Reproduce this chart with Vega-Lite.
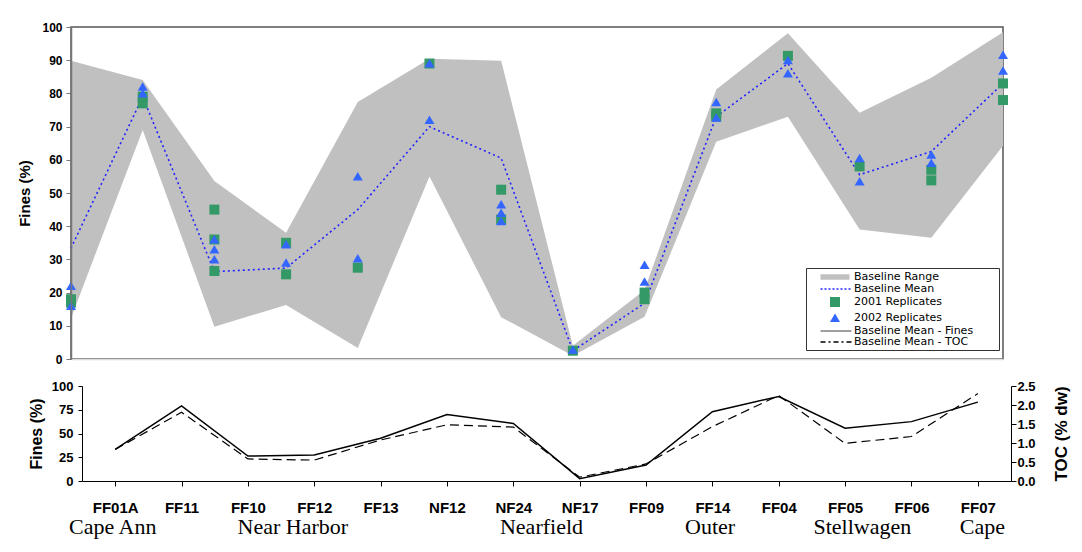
{
  "$schema": "https://vega.github.io/schema/vega-lite/v6.json",
  "background": "white",
  "padding": {"left": 17, "top": 20, "right": 5, "bottom": 5},
  "bounds": "flush",
  "spacing": 27,
  "config": {
    "font": "Liberation Sans",
    "view": {"stroke": null},
    "axis": {
      "grid": false,
      "labelOverlap": false,
      "labelFont": "Liberation Sans",
      "titleFont": "Liberation Sans",
      "labelColor": "#000",
      "titleColor": "#000",
      "labelFontWeight": "bold",
      "titleFontWeight": "bold"
    },
    "legend": {
      "orient": "none",
      "legendX": 735,
      "legendY": 241,
      "title": null,
      "direction": "vertical",
      "symbolSize": 100,
      "symbolOffset": 20,
      "symbolStrokeWidth": 1.3,
      "symbolOpacity": 1,
      "labelFont": "DejaVu Sans",
      "labelFontSize": 11,
      "labelFontWeight": "normal",
      "labelColor": "#000",
      "labelOffset": 13,
      "rowPadding": 0,
      "padding": 3,
      "strokeColor": "#333333",
      "fillColor": "#ffffff"
    }
  },
  "datasets": {
    "stations": [
      {"station": "FF01A", "fines_lo": 12.3, "fines_hi": 89.8, "fines_mean": 33.4, "toc_mean": 0.83},
      {"station": "FF11", "fines_lo": 69.0, "fines_hi": 84.0, "fines_mean": 79.0, "toc_mean": 1.81},
      {"station": "FF10", "fines_lo": 9.7, "fines_hi": 53.6, "fines_mean": 26.3, "toc_mean": 0.58},
      {"station": "FF12", "fines_lo": 16.3, "fines_hi": 38.0, "fines_mean": 27.4, "toc_mean": 0.55},
      {"station": "FF13", "fines_lo": 3.3, "fines_hi": 77.4, "fines_mean": 45.0, "toc_mean": 1.08},
      {"station": "NF12", "fines_lo": 55.0, "fines_hi": 90.4, "fines_mean": 70.0, "toc_mean": 1.48},
      {"station": "NF24", "fines_lo": 12.6, "fines_hi": 89.8, "fines_mean": 60.5, "toc_mean": 1.42},
      {"station": "NF17", "fines_lo": 1.0, "fines_hi": 4.0, "fines_mean": 2.5, "toc_mean": 0.1},
      {"station": "FF09", "fines_lo": 12.7, "fines_hi": 20.8, "fines_mean": 16.8, "toc_mean": 0.45},
      {"station": "FF14", "fines_lo": 65.4, "fines_hi": 81.2, "fines_mean": 73.0, "toc_mean": 1.43},
      {"station": "FF04", "fines_lo": 73.0, "fines_hi": 98.1, "fines_mean": 89.0, "toc_mean": 2.25},
      {"station": "FF05", "fines_lo": 39.0, "fines_hi": 74.2, "fines_mean": 55.5, "toc_mean": 0.99},
      {"station": "FF06", "fines_lo": 36.5, "fines_hi": 84.7, "fines_mean": 62.5, "toc_mean": 1.17},
      {"station": "FF07", "fines_lo": 64.2, "fines_hi": 98.4, "fines_mean": 83.0, "toc_mean": 2.3}
    ],
    "replicates": [
      {"station": "FF01A", "series": "2001 Replicates", "fines": 18.0},
      {"station": "FF01A", "series": "2001 Replicates", "fines": 17.0},
      {"station": "FF01A", "series": "2002 Replicates", "fines": 22.0},
      {"station": "FF01A", "series": "2002 Replicates", "fines": 16.0},
      {"station": "FF11", "series": "2001 Replicates", "fines": 77.0},
      {"station": "FF11", "series": "2001 Replicates", "fines": 79.0},
      {"station": "FF11", "series": "2002 Replicates", "fines": 82.0},
      {"station": "FF11", "series": "2002 Replicates", "fines": 80.0},
      {"station": "FF10", "series": "2001 Replicates", "fines": 45.0},
      {"station": "FF10", "series": "2001 Replicates", "fines": 36.0},
      {"station": "FF10", "series": "2001 Replicates", "fines": 26.5},
      {"station": "FF10", "series": "2002 Replicates", "fines": 36.0},
      {"station": "FF10", "series": "2002 Replicates", "fines": 33.0},
      {"station": "FF10", "series": "2002 Replicates", "fines": 30.0},
      {"station": "FF12", "series": "2001 Replicates", "fines": 35.0},
      {"station": "FF12", "series": "2001 Replicates", "fines": 25.5},
      {"station": "FF12", "series": "2002 Replicates", "fines": 34.5},
      {"station": "FF12", "series": "2002 Replicates", "fines": 29.0},
      {"station": "FF13", "series": "2001 Replicates", "fines": 27.5},
      {"station": "FF13", "series": "2002 Replicates", "fines": 55.0},
      {"station": "FF13", "series": "2002 Replicates", "fines": 30.3},
      {"station": "NF12", "series": "2001 Replicates", "fines": 89.0},
      {"station": "NF12", "series": "2002 Replicates", "fines": 89.0},
      {"station": "NF12", "series": "2002 Replicates", "fines": 72.0},
      {"station": "NF24", "series": "2001 Replicates", "fines": 51.0},
      {"station": "NF24", "series": "2001 Replicates", "fines": 42.0},
      {"station": "NF24", "series": "2002 Replicates", "fines": 46.5},
      {"station": "NF24", "series": "2002 Replicates", "fines": 44.0},
      {"station": "NF24", "series": "2002 Replicates", "fines": 41.5},
      {"station": "NF17", "series": "2001 Replicates", "fines": 2.5},
      {"station": "NF17", "series": "2002 Replicates", "fines": 2.8},
      {"station": "FF09", "series": "2001 Replicates", "fines": 20.0},
      {"station": "FF09", "series": "2001 Replicates", "fines": 18.0},
      {"station": "FF09", "series": "2002 Replicates", "fines": 28.3},
      {"station": "FF09", "series": "2002 Replicates", "fines": 23.3},
      {"station": "FF14", "series": "2001 Replicates", "fines": 74.0},
      {"station": "FF14", "series": "2001 Replicates", "fines": 73.0},
      {"station": "FF14", "series": "2002 Replicates", "fines": 77.3},
      {"station": "FF14", "series": "2002 Replicates", "fines": 72.7},
      {"station": "FF04", "series": "2001 Replicates", "fines": 91.3},
      {"station": "FF04", "series": "2002 Replicates", "fines": 90.0},
      {"station": "FF04", "series": "2002 Replicates", "fines": 86.0},
      {"station": "FF05", "series": "2001 Replicates", "fines": 58.0},
      {"station": "FF05", "series": "2002 Replicates", "fines": 60.5},
      {"station": "FF05", "series": "2002 Replicates", "fines": 53.5},
      {"station": "FF06", "series": "2001 Replicates", "fines": 57.0},
      {"station": "FF06", "series": "2001 Replicates", "fines": 53.8},
      {"station": "FF06", "series": "2002 Replicates", "fines": 61.5},
      {"station": "FF06", "series": "2002 Replicates", "fines": 59.0},
      {"station": "FF07", "series": "2001 Replicates", "fines": 83.0},
      {"station": "FF07", "series": "2001 Replicates", "fines": 78.0},
      {"station": "FF07", "series": "2002 Replicates", "fines": 91.6},
      {"station": "FF07", "series": "2002 Replicates", "fines": 86.8}
    ],
    "regions": [
      {"region": "Cape Ann", "at": 0.43},
      {"region": "Near Harbor", "at": 2.95},
      {"region": "Nearfield", "at": 6.43},
      {"region": "Outer", "at": 8.79},
      {"region": "Stellwagen", "at": 10.92},
      {"region": "Cape", "at": 12.6}
    ]
  },
  "resolve": {"scale": {"x": "independent"}},
  "vconcat": [
    {
      "width": 932,
      "height": 332,
      "view": {"stroke": "#555555", "strokeWidth": 1.5},
      "encoding": {
        "x": {
          "field": "station",
          "type": "ordinal",
          "scale": {
            "type": "point",
            "padding": 0,
            "domain": ["FF01A", "FF11", "FF10", "FF12", "FF13", "NF12", "NF24", "NF17", "FF09", "FF14", "FF04", "FF05", "FF06", "FF07"]
          },
          "axis": {"title": null, "labels": false, "ticks": false, "domainColor": "#dcdcdc", "domainWidth": 1.5, "zindex": 1}
        },
        "y": {
          "type": "quantitative",
          "scale": {"domain": [0, 100], "nice": false},
          "axis": {
            "title": "Fines (%)",
            "titleFontSize": 15,
            "titlePadding": 9,
            "values": [0, 10, 20, 30, 40, 50, 60, 70, 80, 90, 100],
            "labelOverlap": false,
            "labelFontSize": 12,
            "labelPadding": 4,
            "tickSize": 5,
            "tickColor": "#777777",
            "domainColor": "#777777",
            "domainWidth": 1.5,
            "zindex": 1
          }
        }
      },
      "layer": [
        {
          "data": {"name": "stations"},
          "mark": {"type": "area", "color": "#c0c0c0", "opacity": 1},
          "encoding": {
            "y": {"field": "fines_lo"},
            "y2": {"field": "fines_hi"}
          }
        },
        {
          "data": {"name": "stations"},
          "mark": {"type": "line", "color": "#2222ff", "strokeDash": [2, 3], "strokeWidth": 1.6},
          "encoding": {"y": {"field": "fines_mean"}}
        },
        {
          "data": {"name": "replicates"},
          "transform": [{"filter": "datum.series === '2001 Replicates'"}],
          "mark": {"type": "point", "filled": true, "size": 100, "opacity": 1, "strokeWidth": 1.3},
          "encoding": {
            "y": {"field": "fines"},
            "color": {
              "field": "series",
              "type": "nominal",
              "scale": {
                "domain": ["Baseline Range", "Baseline Mean", "2001 Replicates", "2002 Replicates", "Baseline Mean - Fines", "Baseline Mean - TOC"],
                "range": ["#c0c0c0", "#2222ff", "#339966", "#3366ff", "#808080", "#000000"]
              }
            },
            "stroke": {
              "field": "series",
              "type": "nominal",
              "scale": {
                "domain": ["Baseline Range", "Baseline Mean", "2001 Replicates", "2002 Replicates", "Baseline Mean - Fines", "Baseline Mean - TOC"],
                "range": ["transparent", "#2222ff", "transparent", "transparent", "#808080", "#000000"]
              }
            },
            "shape": {
              "field": "series",
              "type": "nominal",
              "scale": {
                "domain": ["Baseline Range", "Baseline Mean", "2001 Replicates", "2002 Replicates", "Baseline Mean - Fines", "Baseline Mean - TOC"],
                "range": [
                  "M31.5,0M-2.9,-0.55H2.9V0.55H-2.9Z",
                  "M-2.9,0H3.3",
                  "square",
                  "M-1,0.8L1,0.8L0,-0.9Z",
                  "M-2.9,0H3.3",
                  "M-2.9,0H3.3"
                ]
              }
            },
            "strokeDash": {
              "field": "series",
              "type": "nominal",
              "scale": {
                "domain": ["Baseline Range", "Baseline Mean", "2001 Replicates", "2002 Replicates", "Baseline Mean - Fines", "Baseline Mean - TOC"],
                "range": [[1, 0], [2, 2], [1, 0], [1, 0], [1, 0], [5, 3, 2, 3]]
              }
            }
          }
        },
        {
          "data": {"name": "replicates"},
          "transform": [{"filter": "datum.series === '2002 Replicates'"}],
          "mark": {"type": "point", "filled": true, "size": 100, "opacity": 1, "strokeWidth": 1.3},
          "encoding": {
            "y": {"field": "fines"},
            "color": {"field": "series", "type": "nominal"},
            "stroke": {"field": "series", "type": "nominal"},
            "shape": {"field": "series", "type": "nominal"},
            "strokeDash": {"field": "series", "type": "nominal"}
          }
        }
      ]
    },
    {
      "width": 940,
      "height": 95,
      "data": {"name": "stations"},
      "encoding": {
        "x": {
          "field": "station",
          "type": "ordinal",
          "scale": {
            "type": "point",
            "domain": ["FF01A", "FF11", "FF10", "FF12", "FF13", "NF12", "NF24", "NF17", "FF09", "FF14", "FF04", "FF05", "FF06", "FF07"],
            "range": [11, 940]
          },
          "axis": {
            "title": null,
            "labelAngle": 0,
            "labelFontSize": 15,
            "labelPadding": 14,
            "tickSize": 5,
            "tickColor": "#000",
            "domainColor": "#000"
          }
        }
      },
      "layer": [
        {
          "mark": {"type": "line", "color": "#000", "strokeWidth": 1.5},
          "encoding": {
            "y": {
              "field": "fines_mean",
              "type": "quantitative",
              "scale": {"domain": [0, 100], "nice": false},
              "axis": {
                "title": "Fines (%)",
                "titleFontSize": 16,
                "titlePadding": 7,
                "values": [0, 25, 50, 75, 100],
                "labelFontSize": 13,
                "labelPadding": 5,
                "tickSize": 4,
                "tickColor": "#000",
                "domainColor": "#000",
                "offset": -11
              }
            }
          }
        },
        {
          "mark": {"type": "line", "color": "#000", "strokeWidth": 1.2, "strokeDash": [9, 5]},
          "encoding": {
            "y": {
              "field": "toc_mean",
              "type": "quantitative",
              "scale": {"domain": [0, 2.5], "nice": false},
              "axis": {
                "title": "TOC (% dw)",
                "orient": "right",
                "format": ".1f",
                "titleAngle": 270,
                "titleBaseline": "top",
                "titleFontSize": 17,
                "titlePadding": 18,
                "values": [0, 0.5, 1, 1.5, 2, 2.5],
                "labelOverlap": false,
                "labelFontSize": 13,
                "labelPadding": 1,
                "tickSize": 5,
                "tickColor": "#000",
                "domainColor": "#000"
              }
            }
          }
        }
      ],
      "resolve": {"scale": {"y": "independent"}}
    },
    {
      "width": 940,
      "height": 37,
      "data": {"name": "regions"},
      "mark": {"type": "text", "font": "Liberation Serif", "fontSize": 22, "color": "#000", "baseline": "middle"},
      "encoding": {
        "x": {"field": "at", "type": "quantitative", "scale": {"domain": [0, 13], "range": [11, 940]}, "axis": null},
        "text": {"field": "region"}
      }
    }
  ]
}
